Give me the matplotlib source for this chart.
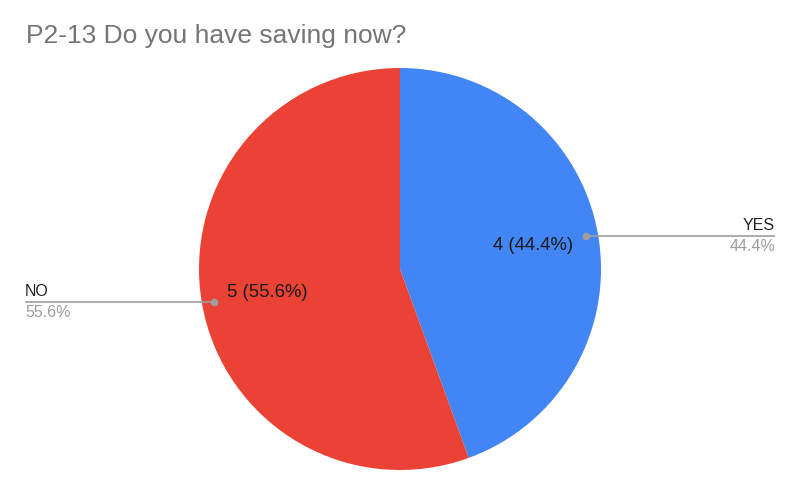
import numpy as np
import matplotlib
matplotlib.use("Agg")
import matplotlib.pyplot as plt

plt.rcParams['font.family'] = ['Liberation Sans', 'DejaVu Sans']

title = "P2-13 Do you have saving now?"
categories = ["YES", "NO"]
values = [4, 5]
colors = ["#4285F4", "#EA4335"]

W, H = 800, 495
fig = plt.figure(figsize=(W / 100, H / 100), dpi=100)
ax = fig.add_axes([0, 0, 1, 1])

cx, cy, r = 400, H - 269, 201
wedges, _ = ax.pie(values, colors=colors, startangle=90, counterclock=False,
                   center=(cx, cy), radius=r, frame=True,
                   wedgeprops=dict(linewidth=0))
ax.set_xlim(0, W)
ax.set_ylim(0, H)
ax.set_aspect('equal')
ax.axis('off')

total = sum(values)
for w, cat, v in zip(wedges, categories, values):
    mid = np.deg2rad((w.theta1 + w.theta2) / 2)
    pct = 100 * v / total
    # inner label
    lx = cx + 0.67 * r * np.cos(mid)
    ly = cy + 0.67 * r * np.sin(mid)
    ax.text(lx, ly, f"{v} ({pct:.1f}%)", ha='center', va='center',
            fontsize=13.3, color='#1a1a1a')
    # leader
    dx = cx + 0.94 * r * np.cos(mid)
    dy = cy + 0.94 * r * np.sin(mid)
    if np.cos(mid) >= 0:
        ex = 775
        ha = 'right'
    else:
        ex = 25
        ha = 'left'
    ax.plot([dx, ex], [dy, dy], color='#9e9e9e', lw=1.2, solid_capstyle='butt')
    ax.plot([dx], [dy], 'o', color='#9e9e9e', ms=4.5)
    ax.text(ex, dy + 3, cat, ha=ha, va='bottom', fontsize=11.5, color='#222222')
    ax.text(ex, dy - 3, f"{pct:.1f}%", ha=ha, va='top', fontsize=11.5, color='#9e9e9e')

fig.text(26 / W, 1 - 36 / H, title, ha='left', va='center', fontsize=19, color='#757575')

fig.savefig("out.png", dpi=100, facecolor='white')
